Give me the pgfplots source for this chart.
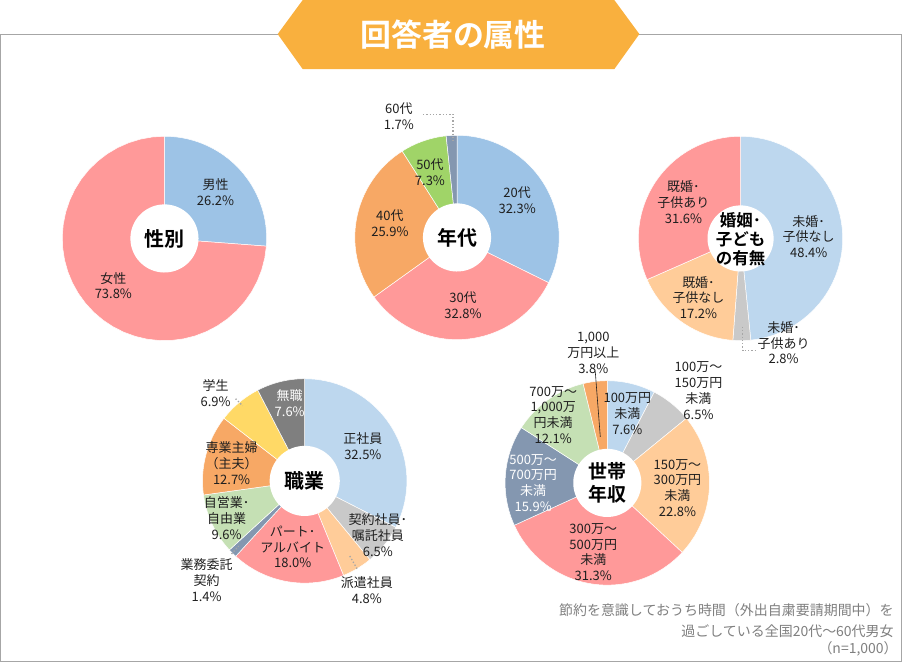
\documentclass[border=0pt]{standalone}
\usepackage{fontspec}
\setmainfont{Noto Sans CJK JP}[BoldFont={Noto Sans CJK JP Bold}]
\usepackage{pgfplots}
\pgfplotsset{compat=1.18}
\definecolor{cpink}{HTML}{FF9999}
\definecolor{cblue}{HTML}{9DC3E6}
\definecolor{clblue}{HTML}{BDD7EE}
\definecolor{corange}{HTML}{F7A865}
\definecolor{cgreen}{HTML}{A0D468}
\definecolor{clgreen}{HTML}{C5E0B4}
\definecolor{cslate}{HTML}{8497B0}
\definecolor{cgray}{HTML}{C9C9C9}
\definecolor{cdgray}{HTML}{7F7F7F}
\definecolor{cpeach}{HTML}{FFCC99}
\definecolor{cyellow}{HTML}{FFD966}
\definecolor{banner}{HTML}{F9B03E}
\definecolor{framegray}{HTML}{A6A6A6}
\definecolor{labtext}{HTML}{1F1F1F}
\definecolor{notegray}{HTML}{7F7F7F}
% cx, cy, start (cumulative %), value (%), colour
\newcommand{\slice}[5]{\addplot[fill=#5, draw=white, line width=0.5pt, domain={90-3.6*(#3+#4)}:{90-3.6*(#3)}, samples=40, variable=\t] ({#1+102*cos(\t)},{#2-102*sin(\t)}) -- (axis cs:#1,#2) -- cycle;}
\newcommand{\hole}[3]{\addplot[fill=white, draw=none, domain=0:360, samples=72, variable=\t] ({#1+#3*cos(\t)},{#2+#3*sin(\t)}) -- cycle;}
\newcommand{\lab}[3]{\node[align=center, font=\fontsize{13}{15.8}\selectfont, text=labtext, inner sep=0] at (axis cs:#1,#2) {#3};}
\newcommand{\wlab}[3]{\node[align=center, font=\fontsize{13}{15.8}\selectfont, text=white, inner sep=0] at (axis cs:#1,#2) {#3};}
\begin{document}
\begin{tikzpicture}
\begin{axis}[width=902bp, height=662bp, scale only axis, xmin=0, xmax=902, ymin=0, ymax=662, y dir=reverse, hide axis, clip=false]
% frame and banner
\draw[framegray, line width=1.3pt] (axis cs:1.5,34.5) rectangle (axis cs:900.5,660.5);
\fill[banner] (axis cs:278,34) -- (axis cs:303,0) -- (axis cs:614,0) -- (axis cs:639,34) -- (axis cs:614,69) -- (axis cs:303,69) -- cycle;
\node[font=\bfseries\fontsize{31}{34}\selectfont, text=white] at (axis cs:453,35) {回答者の属性};
% ---- 性別 ----
\slice{165}{238}{0}{26.2}{cblue}
\slice{165}{238}{26.2}{73.8}{cpink}
\hole{165}{238}{34}
\lab{216}{192}{男性\\26.2\%}
\lab{114}{285}{女性\\73.8\%}
\node[font=\bfseries\fontsize{20}{24}\selectfont] at (axis cs:165,238) {性別};
% ---- 年代 ----
\slice{457}{237}{0}{32.3}{cblue}
\slice{457}{237}{32.3}{32.8}{cpink}
\slice{457}{237}{65.1}{25.9}{corange}
\slice{457}{237}{91.0}{7.3}{cgreen}
\slice{457}{237}{98.3}{1.7}{cslate}
\hole{457}{237}{34}
\lab{517}{200}{20代\\32.3\%}
\lab{463}{305}{30代\\32.8\%}
\lab{390}{223}{40代\\25.9\%}
\lab{430}{172}{50代\\7.3\%}
\lab{399}{116}{60代\\1.7\%}
\draw[framegray, dotted, line width=1.3pt] (axis cs:423,114) -- (axis cs:453,114) -- (axis cs:453,140);
\node[font=\bfseries\fontsize{20}{24}\selectfont] at (axis cs:457,237) {年代};
% ---- 婚姻・子どもの有無 ----
\slice{740}{238}{0}{48.4}{clblue}
\slice{740}{238}{48.4}{2.8}{cgray}
\slice{740}{238}{51.2}{17.2}{cpeach}
\slice{740}{238}{68.4}{31.6}{cpink}
\hole{740}{238}{33}
\lab{808}{236}{未婚･\\子供なし\\48.4\%}
\lab{683}{202}{既婚･\\子供あり\\31.6\%}
\lab{698}{297}{既婚･\\子供なし\\17.2\%}
\lab{783}{342}{未婚･\\子供あり\\2.8\%}
\draw[framegray, dotted, line width=1.3pt] (axis cs:742,326) -- (axis cs:742,350) -- (axis cs:757,350);
\node[align=center, font=\bfseries\fontsize{16.5}{18.8}\selectfont] at (axis cs:740,239) {婚姻･\\子ども\\の有無};
% ---- 職業 ----
\slice{305}{480}{0}{32.5}{clblue}
\slice{305}{480}{32.5}{6.5}{cgray}
\slice{305}{480}{39.0}{4.8}{cpeach}
\slice{305}{480}{43.8}{18.0}{cpink}
\slice{305}{480}{61.8}{1.4}{cslate}
\slice{305}{480}{63.2}{9.6}{clgreen}
\slice{305}{480}{72.8}{12.7}{corange}
\slice{305}{480}{85.5}{6.9}{cyellow}
\slice{305}{480}{92.4}{7.6}{cdgray}
\hole{305}{480}{35}
\wlab{290}{402}{無職\\7.6\%}
\lab{363}{445}{正社員\\32.5\%}
\lab{216}{392}{学生\\6.9\%}
\lab{232}{462}{専業主婦\\（主夫）\\12.7\%}
\lab{227}{517}{自営業･\\自由業\\9.6\%}
\lab{293}{546}{パート･\\アルバイト\\18.0\%}
\lab{378}{534}{契約社員･\\嘱託社員\\6.5\%}
\lab{367}{589}{派遣社員\\4.8\%}
\lab{207}{579}{業務委託\\契約\\1.4\%}
\draw[framegray, dotted, line width=1.3pt] (axis cs:236,398) -- (axis cs:243,405);
\draw[framegray, dotted, line width=1.3pt] (axis cs:350,555) -- (axis cs:358,569);
\draw[framegray, dotted, line width=1.3pt] (axis cs:232,553) -- (axis cs:239,545);
\node[font=\bfseries\fontsize{20}{24}\selectfont] at (axis cs:305,480) {職業};
% ---- 世帯年収 ----
\slice{607}{482}{0}{7.6}{clblue}
\slice{607}{482}{7.6}{6.5}{cgray}
\slice{607}{482}{14.1}{22.8}{cpeach}
\slice{607}{482}{36.9}{31.3}{cpink}
\slice{607}{482}{68.2}{15.9}{cslate}
\slice{607}{482}{84.1}{12.1}{clgreen}
\slice{607}{482}{96.2}{3.8}{corange}
\hole{607}{482}{34}
\lab{593}{352}{1,000\\万円以上\\3.8\%}
\draw[labtext, line width=0.6pt] (axis cs:595,371) -- (axis cs:600,436);
\lab{627}{413}{100万円\\未満\\7.6\%}
\lab{698}{390}{100万～\\150万円\\未満\\6.5\%}
\lab{677}{487}{150万～\\300万円\\未満\\22.8\%}
\lab{593}{551}{300万～\\500万円\\未満\\31.3\%}
\wlab{533}{482}{500万～\\700万円\\未満\\15.9\%}
\lab{553}{414}{700万～\\1,000万\\円未満\\12.1\%}
\node[align=center, font=\bfseries\fontsize{19}{23}\selectfont] at (axis cs:607,482) {世帯\\年収};
% ---- note ----
\node[anchor=east, font=\fontsize{14}{16}\selectfont, text=notegray, inner sep=0] at (axis cs:893,609) {節約を意識しておうち時間（外出自粛要請期間中）を};
\node[anchor=east, font=\fontsize{14}{16}\selectfont, text=notegray, inner sep=0] at (axis cs:893,630) {過ごしている全国20代～60代男女};
\node[anchor=east, font=\fontsize{14}{16}\selectfont, text=notegray, inner sep=0] at (axis cs:897,648) {（n=1,000）};
\end{axis}
\end{tikzpicture}
\end{document}
